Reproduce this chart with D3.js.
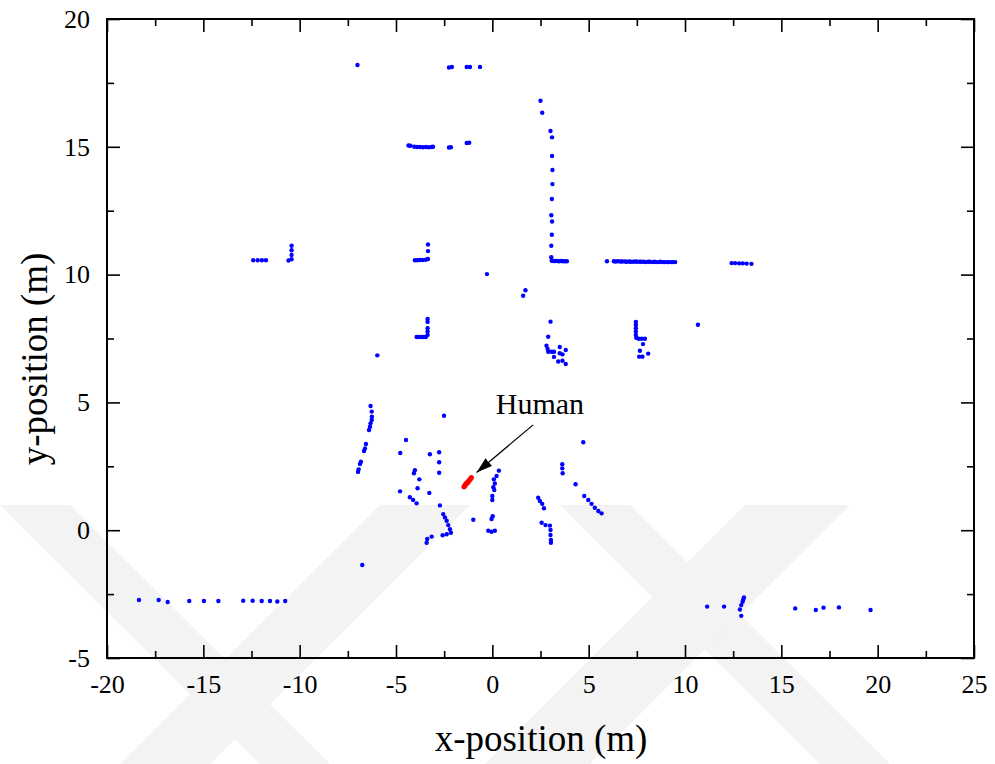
<!DOCTYPE html>
<html>
<head>
  <meta charset="utf-8">
  <title>Laser scan with human</title>
  <style type="text/css">
    body {margin: 0; background: #fff;}
    text {font-family: "Liberation Serif", "Times New Roman", serif; fill: #000;}
    .tickLbl text {font-size: 26px;}
    .axisTitle {font-size: 37px;}
  </style>
</head>
<body>
<script src="https://cdn.jsdelivr.net/npm/d3@7"></script>
<div id="my_dataviz"></div>
<script>
// tick values
var xTicks = [-20, -15, -10, -5, 0, 5, 10, 15, 20, 25];
var yTicks = [-5, 0, 5, 10, 15, 20];
var xMinorTicks = [-17.5, -12.5, -7.5, -2.5, 2.5, 7.5, 12.5, 17.5, 22.5];
var yMinorTicks = [-2.5, 2.5, 7.5, 12.5, 17.5];

// scan points [x, y] in metres
var farWalls = [
  [-7.0, 18.2], [-2.25, 18.1], [-2.1, 18.12], [-1.33, 18.12], [-1.16, 18.12], [-0.64, 18.12],
  [-4.35, 15.05], [-4.25, 15.04], [-4.05, 15.0], [-3.9, 14.99], [-3.75, 14.99], [-3.6, 14.98],
  [-3.45, 14.99], [-3.3, 14.98], [-3.15, 14.99], [-3.08, 15.0], [-2.25, 14.97], [-2.15, 14.98],
  [-1.33, 15.15], [-1.2, 15.16],
  [2.5, 16.8], [2.59, 16.33], [3.02, 15.62], [3.1, 15.37], [3.1, 14.64], [3.12, 14.09],
  [3.12, 13.54], [3.09, 12.96], [3.06, 12.32], [3.1, 12.08], [3.09, 11.56], [3.06, 11.13]
];
var midWalls = [
  [-12.41, 10.56], [-12.18, 10.56], [-11.96, 10.56], [-11.75, 10.56],
  [-10.58, 10.55], [-10.42, 10.6], [-10.42, 10.77], [-10.42, 10.95], [-10.42, 11.13],
  [-4.02, 10.56], [-3.9, 10.56], [-3.77, 10.57], [-3.62, 10.57], [-3.46, 10.58],
  [-3.34, 10.61], [-3.34, 10.92], [-3.34, 11.18],
  [3.06, 10.68], [3.08, 10.54], [3.17, 10.53], [3.26, 10.53], [3.37, 10.53], [3.46, 10.52],
  [3.57, 10.53], [3.66, 10.52], [3.77, 10.52], [3.87, 10.52],
  [-0.28, 10.02], [1.72, 9.39], [1.6, 9.17],
  [5.95, 10.52], [6.31, 10.52], [6.4, 10.51], [6.52, 10.52], [6.65, 10.51], [6.74, 10.51],
  [6.88, 10.51], [6.97, 10.5], [7.1, 10.51], [7.18, 10.5], [7.31, 10.5], [7.43, 10.51],
  [7.5, 10.5], [7.64, 10.5], [7.73, 10.5], [7.86, 10.5], [7.95, 10.49], [8.08, 10.5],
  [8.17, 10.5], [8.3, 10.49], [8.41, 10.5], [8.5, 10.49], [8.63, 10.49], [8.72, 10.5],
  [8.85, 10.49], [8.94, 10.49], [9.07, 10.49], [9.16, 10.49], [9.29, 10.49], [9.38, 10.49], [9.49, 10.49],
  [12.42, 10.45], [12.6, 10.45], [12.81, 10.44], [13.0, 10.44], [13.2, 10.43], [13.45, 10.42],
  [-3.36, 8.26], [-3.36, 8.15], [-3.36, 7.9], [-3.36, 7.77], [-3.36, 7.64],
  [-3.93, 7.56], [-3.81, 7.56], [-3.68, 7.56], [-3.56, 7.56], [-3.45, 7.56],
  [3.02, 8.16], [2.9, 7.57], [2.81, 7.22], [2.87, 7.09], [2.9, 6.98], [3.07, 6.98], [3.2, 6.98],
  [3.5, 7.17], [3.81, 7.05], [3.5, 6.92], [3.64, 6.88], [3.2, 6.78], [3.42, 6.6], [3.64, 6.63], [3.81, 6.5],
  [7.45, 8.15], [7.45, 8.03], [7.45, 7.9], [7.45, 7.77], [7.45, 7.64], [7.47, 7.53],
  [7.6, 7.49], [7.75, 7.49], [7.92, 7.49], [7.82, 7.28], [7.66, 7.02], [7.62, 6.79], [7.79, 6.79], [8.09, 6.91],
  [10.67, 8.04], [-5.97, 6.84]
];
var nearScan = [
  [-6.32, 4.86], [-6.26, 4.64], [-6.25, 4.44], [-6.26, 4.31], [-6.32, 4.18], [-6.35, 4.05], [-6.4, 3.92],
  [-6.56, 3.37], [-6.61, 3.2], [-6.66, 3.1], [-6.82, 2.68], [-6.87, 2.59], [-6.94, 2.38], [-6.97, 2.28],
  [-2.51, 4.48], [-4.48, 3.53], [-4.78, 3.02], [-3.24, 2.97], [-2.76, 3.05], [-2.76, 2.66], [-2.76, 2.25],
  [-4.02, 2.35], [-4.07, 2.23], [-3.79, 1.99], [-3.88, 1.64], [-4.79, 1.52], [-3.27, 1.46],
  [-4.28, 1.29], [-4.11, 1.18], [-3.93, 1.05], [-2.72, 0.97],
  [-2.55, 0.63], [-2.46, 0.5], [-2.37, 0.37], [-2.29, 0.2], [-2.2, 0.04], [-2.15, -0.1],
  [-2.37, -0.16], [-2.58, -0.2], [-3.15, -0.25], [-3.38, -0.34], [-3.41, -0.49], [-0.99, 0.41],
  [0.34, 2.33], [0.22, 2.12], [0.08, 1.99], [0.13, 1.83], [0.05, 1.68], [0.1, 1.57],
  [0.0, 1.34], [0.0, 1.18], [0.02, 0.55], [-0.04, 0.44], [-0.21, -0.02], [-0.04, -0.06], [0.13, -0.02],
  [4.72, 3.44], [3.63, 2.58], [3.63, 2.42], [3.65, 2.23], [4.32, 1.8],
  [4.77, 1.34], [4.98, 1.18], [5.15, 1.03], [5.32, 0.88], [5.5, 0.75], [5.67, 0.66],
  [2.38, 1.27], [2.47, 1.14], [2.59, 1.03], [2.68, 0.86],
  [2.56, 0.29], [2.76, 0.2], [2.99, 0.18], [3.02, 0.01], [3.02, -0.19], [3.04, -0.38], [3.04, -0.49],
  [-6.75, -1.36]
];
var groundLeft = [
  [-18.34, -2.73], [-17.32, -2.73], [-16.85, -2.81], [-15.73, -2.77], [-14.97, -2.77], [-14.22, -2.77],
  [-12.93, -2.76], [-12.44, -2.76], [-11.97, -2.77], [-11.54, -2.77], [-11.16, -2.79], [-10.75, -2.77]
];
var groundRight = [
  [11.15, -2.99], [12.03, -2.99], [13.06, -2.63], [13.02, -2.72], [12.99, -2.8], [12.92, -2.93],
  [12.85, -3.1], [12.92, -3.35], [15.72, -3.06], [16.79, -3.12], [17.19, -3.03], [17.99, -3.02], [19.63, -3.12]
];
var humanPts = [
  [-1.47, 1.7], [-1.42, 1.75], [-1.37, 1.81], [-1.31, 1.85], [-1.25, 1.9], [-1.19, 1.96], [-1.13, 2.01], [-1.09, 2.06]
];
// annotation: label position, arrow tail and tip
var humanLabel = {text: "Human", x: 2.47, y: 4.55};
var arrowFrom = [2.12, 4.12];
var arrowTo = [-0.82, 2.26];

var W = 995, H = 764;
var margin = {top: 19, right: 21, bottom: 106, left: 107},
    width = W - margin.left - margin.right,
    height = H - margin.top - margin.bottom;

var svg = d3.select("#my_dataviz")
  .append("svg")
    .attr("width", W)
    .attr("height", H);

// faint background watermark bands
var marks = [
  [[0, 505], [70, 505], [330, 764], [260, 764]],
  [[380, 505], [470, 505], [210, 764], [120, 764]],
  [[560, 505], [630, 505], [890, 764], [820, 764]],
  [[745, 505], [850, 505], [590, 764], [485, 764]]
];
svg.append("g")
  .selectAll("polygon")
  .data(marks)
  .enter()
  .append("polygon")
    .attr("points", function(d) { return d.map(function(p) { return p.join(","); }).join(" "); })
    .attr("fill", "#f3f3f3");

var plot = svg.append("g")
    .attr("transform", "translate(" + margin.left + "," + margin.top + ")");

var x = d3.scaleLinear().domain([-20, 25]).range([0, width]);
var y = d3.scaleLinear().domain([-5, 20]).range([height, 0]);

var fmt = function(d) { return String(d); };

// bottom / left axes with labels, ticks pointing inward
plot.append("g")
  .attr("class", "tickLbl")
  .attr("transform", "translate(0," + height + ")")
  .call(d3.axisBottom(x).tickValues(xTicks).tickSize(-13).tickPadding(17).tickFormat(fmt));
plot.append("g")
  .attr("class", "tickLbl")
  .call(d3.axisLeft(y).tickValues(yTicks).tickSize(-13).tickPadding(17).tickFormat(fmt));
plot.append("g")
  .attr("transform", "translate(0," + height + ")")
  .call(d3.axisBottom(x).tickValues(xMinorTicks).tickSize(-7).tickFormat(""));
plot.append("g")
  .call(d3.axisLeft(y).tickValues(yMinorTicks).tickSize(-7).tickFormat(""));
// top / right mirrored ticks
plot.append("g")
  .call(d3.axisTop(x).tickValues(xTicks).tickSize(-13).tickFormat(""));
plot.append("g")
  .call(d3.axisTop(x).tickValues(xMinorTicks).tickSize(-7).tickFormat(""));
plot.append("g")
  .attr("transform", "translate(" + width + ",0)")
  .call(d3.axisRight(y).tickValues(yTicks).tickSize(-13).tickFormat(""));
plot.append("g")
  .attr("transform", "translate(" + width + ",0)")
  .call(d3.axisRight(y).tickValues(yMinorTicks).tickSize(-7).tickFormat(""));

plot.selectAll(".domain").remove();
plot.selectAll(".tick line").attr("stroke", "#000").attr("stroke-width", 1.6);
plot.selectAll(".tickLbl text").attr("fill", "#000");

plot.append("rect")
  .attr("width", width)
  .attr("height", height)
  .attr("fill", "none")
  .attr("stroke", "#000")
  .attr("stroke-width", 2);

// scan points
var scan = farWalls.concat(midWalls, nearScan, groundLeft, groundRight);
plot.append("g")
  .selectAll("circle")
  .data(scan)
  .enter()
  .append("circle")
    .attr("cx", function(d) { return x(d[0]); })
    .attr("cy", function(d) { return y(d[1]); })
    .attr("r", 2.2)
    .attr("fill", "#0000ff");

plot.append("g")
  .selectAll("circle")
  .data(humanPts)
  .enter()
  .append("circle")
    .attr("cx", function(d) { return x(d[0]); })
    .attr("cy", function(d) { return y(d[1]); })
    .attr("r", 2.6)
    .attr("fill", "#ff0000");

// arrow + label
svg.append("defs").append("marker")
    .attr("id", "head")
    .attr("markerUnits", "userSpaceOnUse")
    .attr("viewBox", "0 0 16 10")
    .attr("refX", 16)
    .attr("refY", 5)
    .attr("markerWidth", 16)
    .attr("markerHeight", 10)
    .attr("orient", "auto")
  .append("path")
    .attr("d", "M0,0L16,5L0,10Z")
    .attr("fill", "#000");

plot.append("line")
  .attr("x1", x(arrowFrom[0]))
  .attr("y1", y(arrowFrom[1]))
  .attr("x2", x(arrowTo[0]))
  .attr("y2", y(arrowTo[1]))
  .attr("stroke", "#000")
  .attr("stroke-width", 1.2)
  .attr("marker-end", "url(#head)");

plot.append("text")
  .attr("x", x(humanLabel.x))
  .attr("y", y(humanLabel.y))
  .attr("text-anchor", "middle")
  .style("font-size", "30px")
  .text(humanLabel.text);

// axis titles
svg.append("text")
  .attr("class", "axisTitle")
  .attr("x", 541)
  .attr("y", 751)
  .attr("text-anchor", "middle")
  .text("x-position (m)");

svg.append("text")
  .attr("class", "axisTitle")
  .attr("transform", "translate(47,359) rotate(-90)")
  .attr("text-anchor", "middle")
  .text("y-position (m)");
</script>
</body>
</html>
